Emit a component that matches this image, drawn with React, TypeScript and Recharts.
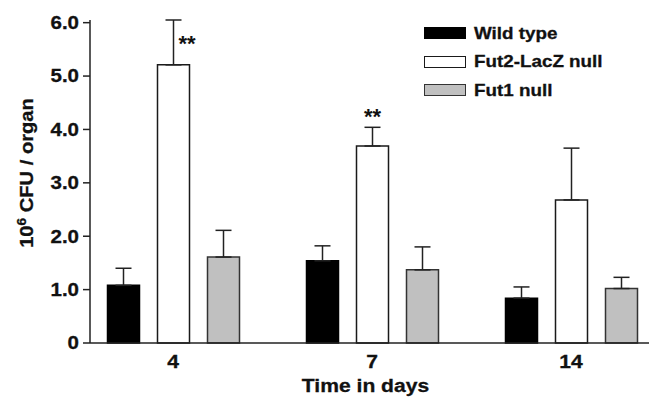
import React from "react";
import { BarChart, Bar, XAxis, YAxis, ErrorBar, Legend, LabelList } from "recharts";

const categories = ["4", "7", "14"];
const wildType = [1.08, 1.54, 0.84];
const wildTypeErr = [0.32, 0.28, 0.21];
const fut2LacZ = [5.21, 3.69, 2.68];
const fut2LacZErr = [0.84, 0.35, 0.97];
const fut1 = [1.61, 1.37, 1.02];
const fut1Err = [0.5, 0.43, 0.21];
const significance = ["**", "**", ""];
const yTicks = [0, 1, 2, 3, 4, 5, 6];

const seriesNames = ["Wild type", "Fut2-LacZ null", "Fut1 null"];

const data = categories.map((c, i) => ({
  day: c,
  wild: wildType[i],
  wildErr: [0, wildTypeErr[i]],
  fut2: fut2LacZ[i],
  fut2Err: [0, fut2LacZErr[i]],
  fut1: fut1[i],
  fut1Err: [0, fut1Err[i]],
  sig: significance[i],
}));

const FONT = "'Liberation Sans', Arial, Helvetica, sans-serif";
const SX = 1.14;

const legendItems = [
  { name: seriesNames[0], fill: "#000000", stroke: "#000000" },
  { name: seriesNames[1], fill: "#ffffff", stroke: "#1a1a1a" },
  { name: seriesNames[2], fill: "#c0c0c0", stroke: "#333333" },
];

const LegendContent = () => (
  <div style={{ fontFamily: FONT }}>
    {legendItems.map((it) => (
      <div key={it.name} style={{ display: "flex", alignItems: "center", height: 28.5 }}>
        <div
          style={{
            width: 40,
            height: 10,
            background: it.fill,
            border: `1.5px solid ${it.stroke}`,
            marginRight: 8,
            flexShrink: 0,
          }}
        />
        <span
          style={{
            fontWeight: 700,
            fontSize: 16.5,
            color: "#111",
            display: "inline-block",
            transform: `scaleX(${SX})`,
            transformOrigin: "left center",
            WebkitTextStroke: "0.3px #111",
            whiteSpace: "nowrap",
          }}
        >
          {it.name}
        </span>
      </div>
    ))}
  </div>
);

const WideText = (p: any) => {
  const { x, y, anchor, size, children, dy } = p;
  return (
    <g transform={`translate(${x},${y}) scale(${SX},1)`}>
      <text
        x={0}
        y={0}
        dy={dy}
        textAnchor={anchor}
        fontFamily={FONT}
        fontWeight={700}
        fontSize={size}
        fill="#111"
        stroke="#111"
        strokeWidth={0.3}
      >
        {children}
      </text>
    </g>
  );
};

const XTick = (props: any) => {
  const { x, y, payload } = props;
  return (
    <WideText x={x} y={y} anchor="middle" size={18.5} dy="0.71em">
      {payload.value}
    </WideText>
  );
};

const YTick = (props: any) => {
  const { x, y, payload } = props;
  const v = payload.value as number;
  return (
    <WideText x={x} y={y} anchor="end" size={18} dy="0.355em">
      {v === 0 ? "0" : v.toFixed(1)}
    </WideText>
  );
};

const StarLabel = (props: any) => {
  const { x, y, width, height, value, index } = props;
  const sig = data[index]?.sig;
  if (!sig) return null;
  const pxPerUnit = height / value;
  const errTop = y - fut2LacZErr[index] * pxPerUnit;
  const cx = x + width / 2;
  if (index === 0) {
    return (
      <text x={cx + 5} y={errTop + 31} fontFamily={FONT} fontWeight={700} fontSize={22} fill="#111" textAnchor="start">
        {sig}
      </text>
    );
  }
  return (
    <text x={cx} y={errTop - 3} fontFamily={FONT} fontWeight={700} fontSize={22} fill="#111" textAnchor="middle">
      {sig}
    </text>
  );
};

const YLabel = () => (
  <g transform="translate(33,173) rotate(-90) scale(1.12,1)">
    <text
      x={0}
      y={0}
      textAnchor="middle"
      fontFamily={FONT}
      fontWeight={700}
      fontSize={18}
      fill="#111"
      stroke="#111"
      strokeWidth={0.3}
    >
      10
      <tspan fontSize={12} dy={-7}>6</tspan>
      <tspan dy={7}> CFU / organ</tspan>
    </text>
  </g>
);

const XLabel = (props: any) => {
  const vb = props.viewBox || { x: 90, width: 559, y: 343 };
  return (
    <WideText x={vb.x + vb.width / 2 - 4} y={391.5} anchor="middle" size={18.5}>
      Time in days
    </WideText>
  );
};

export default function App() {
  return (
    <div style={{ position: "absolute", left: 0, top: 0, background: "#fff" }}>
      <BarChart
        width={649}
        height={400}
        data={data}
        margin={{ top: 20, right: 0, bottom: 0, left: 0 }}
        barSize={32}
        barGap={18}
      >
        <XAxis
          dataKey="day"
          height={57}
          padding={{ left: -16.5, right: -21.5 }}
          axisLine={{ stroke: "#222", strokeWidth: 1.5 }}
          tickLine={false}
          tickSize={0}
          tickMargin={12}
          tick={<XTick />}
          label={<XLabel />}
        />
        <YAxis
          width={90}
          domain={[0, 6]}
          ticks={yTicks}
          interval={0}
          axisLine={{ stroke: "#222", strokeWidth: 1.5 }}
          tickLine={{ stroke: "#222", strokeWidth: 1.5 }}
          tickSize={7}
          tickMargin={4}
          tick={<YTick />}
          label={<YLabel />}
        />
        <Legend
          layout="vertical"
          align="center"
          verticalAlign="middle"
          content={<LegendContent />}
          wrapperStyle={{ position: "absolute", left: 424, top: 19, width: 220 }}
        />
        <Bar dataKey="wild" name={seriesNames[0]} fill="#000000" stroke="#000000" strokeWidth={1.5} isAnimationActive={false}>
          <ErrorBar dataKey="wildErr" direction="y" width={8} stroke="#222" strokeWidth={1.5} />
        </Bar>
        <Bar dataKey="fut2" name={seriesNames[1]} fill="#ffffff" stroke="#1a1a1a" strokeWidth={1.5} isAnimationActive={false}>
          <ErrorBar dataKey="fut2Err" direction="y" width={8} stroke="#222" strokeWidth={1.5} />
          <LabelList dataKey="fut2" content={<StarLabel />} />
        </Bar>
        <Bar dataKey="fut1" name={seriesNames[2]} fill="#c0c0c0" stroke="#333333" strokeWidth={1.5} isAnimationActive={false}>
          <ErrorBar dataKey="fut1Err" direction="y" width={8} stroke="#222" strokeWidth={1.5} />
        </Bar>
      </BarChart>
    </div>
  );
}
